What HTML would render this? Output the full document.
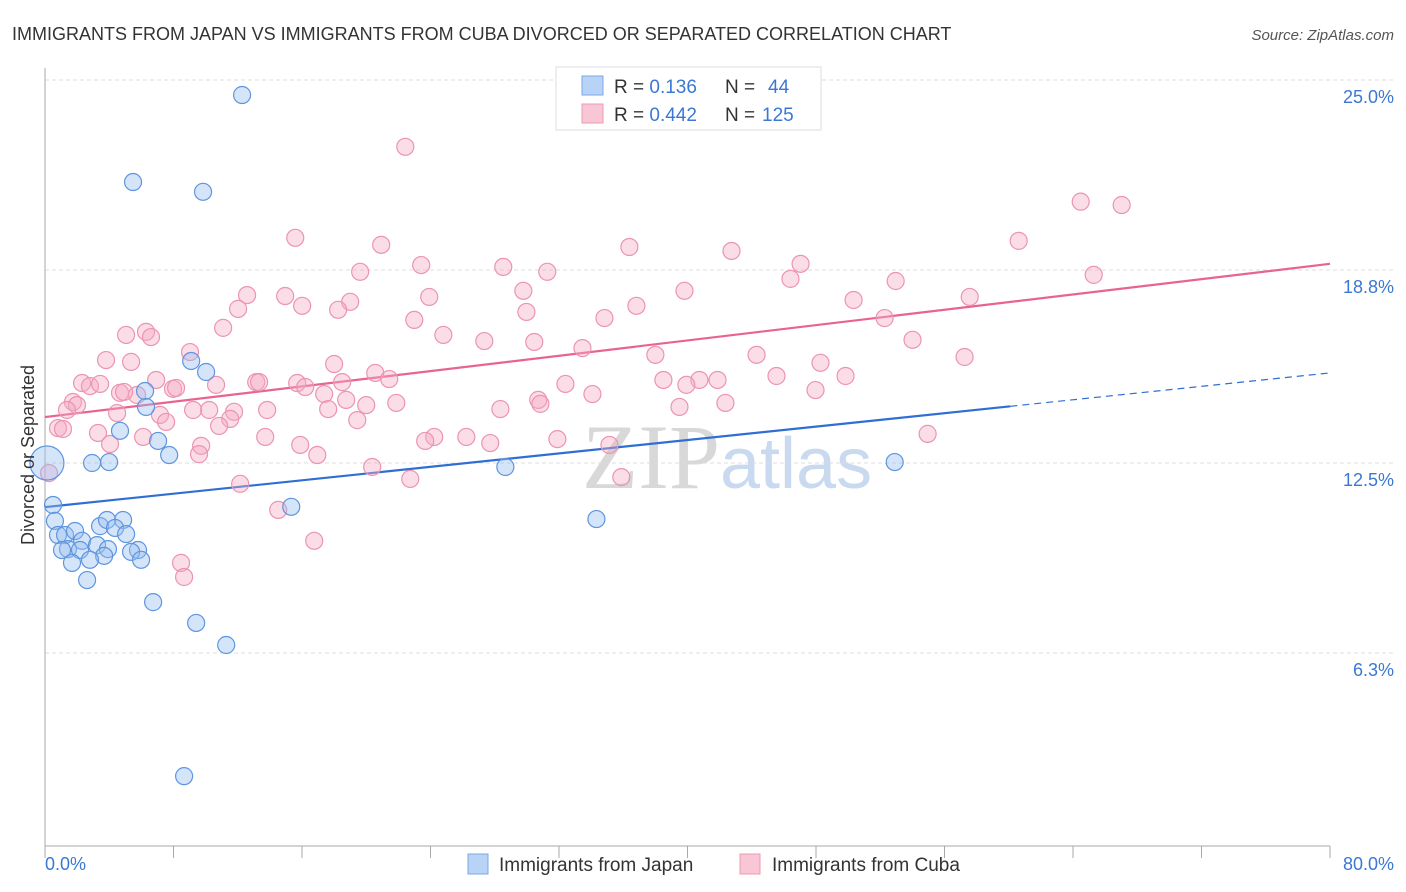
<!DOCTYPE html>
<html><head><meta charset="utf-8"><style>
body{margin:0;background:#fff;font-family:"Liberation Sans",sans-serif}
svg{display:block}
</style></head><body>
<svg id="chart" width="1406" height="892" xmlns="http://www.w3.org/2000/svg">
<text x="12" y="40" font-size="18" fill="#333">IMMIGRANTS FROM JAPAN VS IMMIGRANTS FROM CUBA DIVORCED OR SEPARATED CORRELATION CHART</text>
<text x="1394" y="40" font-size="15" fill="#555" font-style="italic" text-anchor="end">Source: ZipAtlas.com</text>
<text x="720" y="488" font-size="92" fill="#d8d8d8" text-anchor="end" font-family="Liberation Serif,serif">ZIP</text>
<text x="720" y="488" font-size="72" fill="#c9d9ef">atlas</text>
<g id="grid"></g><g id="axes"></g><g id="trends"></g><g id="points"></g>
<text transform="translate(34,455) rotate(-90)" font-size="18" fill="#333" text-anchor="middle">Divorced or Separated</text>
<text x="45" y="870" font-size="18" fill="#3a78d4">0.0%</text>
<text x="1394" y="870" font-size="18" fill="#3a78d4" text-anchor="end">80.0%</text>
<g>
<rect x="556" y="67" width="265" height="63" fill="#fff" stroke="#ddd"/>
<rect x="582" y="76" width="21" height="19" fill="#b8d3f5" stroke="#7aa8e6"/>
<rect x="582" y="104" width="21" height="19" fill="#f8c6d5" stroke="#ec9ab3"/>
<text x="614" y="93" font-size="19" fill="#333">R = <tspan fill="#3a78d4">0.136</tspan><tspan x="725">N = </tspan><tspan x="768" fill="#3a78d4">44</tspan></text>
<text x="614" y="121" font-size="19" fill="#333">R = <tspan fill="#3a78d4">0.442</tspan><tspan x="725">N = </tspan><tspan x="762" fill="#3a78d4">125</tspan></text>
</g>
<g>
<rect x="468" y="854" width="20" height="20" fill="#b8d3f5" stroke="#7aa8e6"/>
<text x="499" y="871" font-size="19" fill="#333">Immigrants from Japan</text>
<rect x="740" y="854" width="20" height="20" fill="#f8c6d5" stroke="#ec9ab3"/>
<text x="772" y="871" font-size="19" fill="#333">Immigrants from Cuba</text>
</g>
</svg>
<script>
const yTicks=[25.0,18.8,12.5,6.3];
const yTickLabels=["25.0%","18.8%","12.5%","6.3%"];
const xTicks=[0,8,16,24,32,40,48,56,64,72,80];
const japanX=[12.27,5.48,9.84,9.10,10.03,6.23,6.29,4.67,7.04,7.73,2.93,3.99,28.66,52.9,0.50,15.33,0.62,3.43,4.86,3.86,4.36,5.05,0.81,1.25,1.87,2.31,3.24,1.43,1.06,2.18,3.92,5.79,5.36,3.68,2.80,1.68,5.98,2.62,34.33,6.73,9.41,11.28,8.66,0.12];
const japanY=[24.51,21.67,21.35,15.83,15.47,14.85,14.33,13.55,13.22,12.76,12.50,12.53,12.37,12.53,11.13,11.07,10.61,10.44,10.64,10.64,10.38,10.18,10.15,10.15,10.28,9.96,9.82,9.69,9.66,9.66,9.69,9.66,9.60,9.47,9.34,9.24,9.34,8.68,10.67,7.96,7.28,6.56,2.28,12.5];
const japanBig=[43];
const cubaX=[22.43,64.48,67.03,15.58,20.93,36.38,42.74,60.62,23.42,28.53,31.27,47.04,19.62,65.29,46.41,52.96,12.58,14.95,29.78,39.81,23.92,19.00,16.01,18.25,36.82,50.34,57.57,12.02,22.99,29.97,34.83,52.27,11.09,24.80,27.35,30.46,5.05,6.29,6.60,33.46,54.01,9.03,3.80,5.36,38.00,44.30,57.25,18.00,48.28,20.56,21.43,6.92,2.31,2.80,3.43,15.70,38.50,40.74,41.87,45.54,49.84,7.97,8.16,10.65,13.15,13.33,16.20,18.50,32.40,39.93,4.67,5.73,4.92,1.74,1.99,1.37,34.08,47.97,17.38,21.87,18.75,30.71,30.84,20.00,9.22,10.22,11.77,7.16,13.83,28.35,39.50,42.36,17.63,4.49,7.54,11.53,10.84,19.44,0.81,1.12,3.30,6.11,13.71,9.72,15.89,24.23,26.23,27.72,31.90,54.95,23.67,4.05,9.59,16.95,35.14,20.37,12.15,22.74,35.88,14.52,16.76,8.47,8.66,0.25];
const cubaY=[22.82,21.03,20.92,19.85,19.62,19.55,19.42,19.75,18.96,18.90,18.74,19.00,18.74,18.64,18.51,18.44,17.98,17.95,18.12,18.12,17.92,17.76,17.63,17.50,17.63,17.82,17.92,17.53,17.17,17.43,17.23,17.23,16.91,16.68,16.48,16.45,16.68,16.78,16.61,16.25,16.52,16.12,15.86,15.80,16.03,16.03,15.96,15.73,15.77,15.44,15.24,15.21,15.11,15.01,15.08,15.11,15.21,15.21,15.21,15.34,15.34,14.92,14.95,15.05,15.14,15.14,14.98,15.14,15.08,15.05,14.79,14.72,14.82,14.49,14.39,14.23,14.75,14.88,14.75,14.46,14.56,14.56,14.43,14.39,14.23,14.23,14.17,14.07,14.23,14.26,14.33,14.46,14.26,14.13,13.84,13.94,13.71,13.90,13.64,13.61,13.48,13.35,13.35,13.06,13.09,13.35,13.35,13.15,13.28,13.45,13.22,13.12,12.79,12.76,13.09,12.37,11.82,11.98,12.04,10.97,9.96,9.24,8.78,12.17];
const cubaBig=[124];
const japanTrend=[11.06,15.44]; // y at x=0 and x=80
const japanSolidEnd=60.1;
const cubaTrend=[14.0,19.0];

const NS="http://www.w3.org/2000/svg";
const X=v=>45+v*(1285/80);
const Y=v=>846-v*30.64;
function mk(tag,attrs,parent){const e=document.createElementNS(NS,tag);for(const k in attrs)e.setAttribute(k,attrs[k]);parent.appendChild(e);return e;}
const grid=document.getElementById('grid'),axes=document.getElementById('axes'),trends=document.getElementById('trends'),pts=document.getElementById('points');
yTicks.forEach((t,i)=>{
 const l=mk('line',{x1:45,x2:1394,y1:Y(t),y2:Y(t),stroke:'#ddd','stroke-dasharray':'4,3'},grid);
 
 
 const tx=mk('text',{x:1394,y:Y(t)+23,'font-size':18,fill:'#3a78d4','text-anchor':'end'},grid);
 tx.textContent=yTickLabels[i];
 
 
});
const ya=mk('line',{x1:45,x2:45,y1:68,y2:846,stroke:'#aaa'},axes);


const xa=mk('line',{x1:45,x2:1330,y1:846,y2:846,stroke:'#aaa'},axes);


xTicks.forEach(t=>{
 const l=mk('line',{x1:X(t),x2:X(t),y1:846,y2:858,stroke:'#aaa'},axes);
 
 
});
function pt(x,y,big,fill,stroke,name){
 const c=mk('circle',{cx:X(x),cy:Y(y),r:big?17:8.5,fill:fill,stroke:stroke,'stroke-width':1.2},pts);
 
 
}
cubaX.forEach((x,i)=>pt(x,cubaY[i],cubaBig.includes(i),'rgba(246,170,195,0.4)','#ec94b0','cuba-point'));
japanX.forEach((x,i)=>pt(x,japanY[i],japanBig.includes(i),'rgba(150,190,240,0.4)','#5e95de','japan-point'));
const yAt=(tr,x)=>tr[0]+(tr[1]-tr[0])*x/80;
const ct=mk('line',{x1:X(0),y1:Y(cubaTrend[0]),x2:X(80),y2:Y(cubaTrend[1]),stroke:'#e8648f','stroke-width':2.2},trends);


const jt=mk('line',{x1:X(0),y1:Y(japanTrend[0]),x2:X(japanSolidEnd),y2:Y(yAt(japanTrend,japanSolidEnd)),stroke:'#2f6fd4','stroke-width':2.2},trends);


const jd=mk('line',{x1:X(japanSolidEnd),y1:Y(yAt(japanTrend,japanSolidEnd)),x2:X(80),y2:Y(japanTrend[1]),stroke:'#2f6fd4','stroke-width':1.2,'stroke-dasharray':'7,5'},trends);


</script>
</body></html>
